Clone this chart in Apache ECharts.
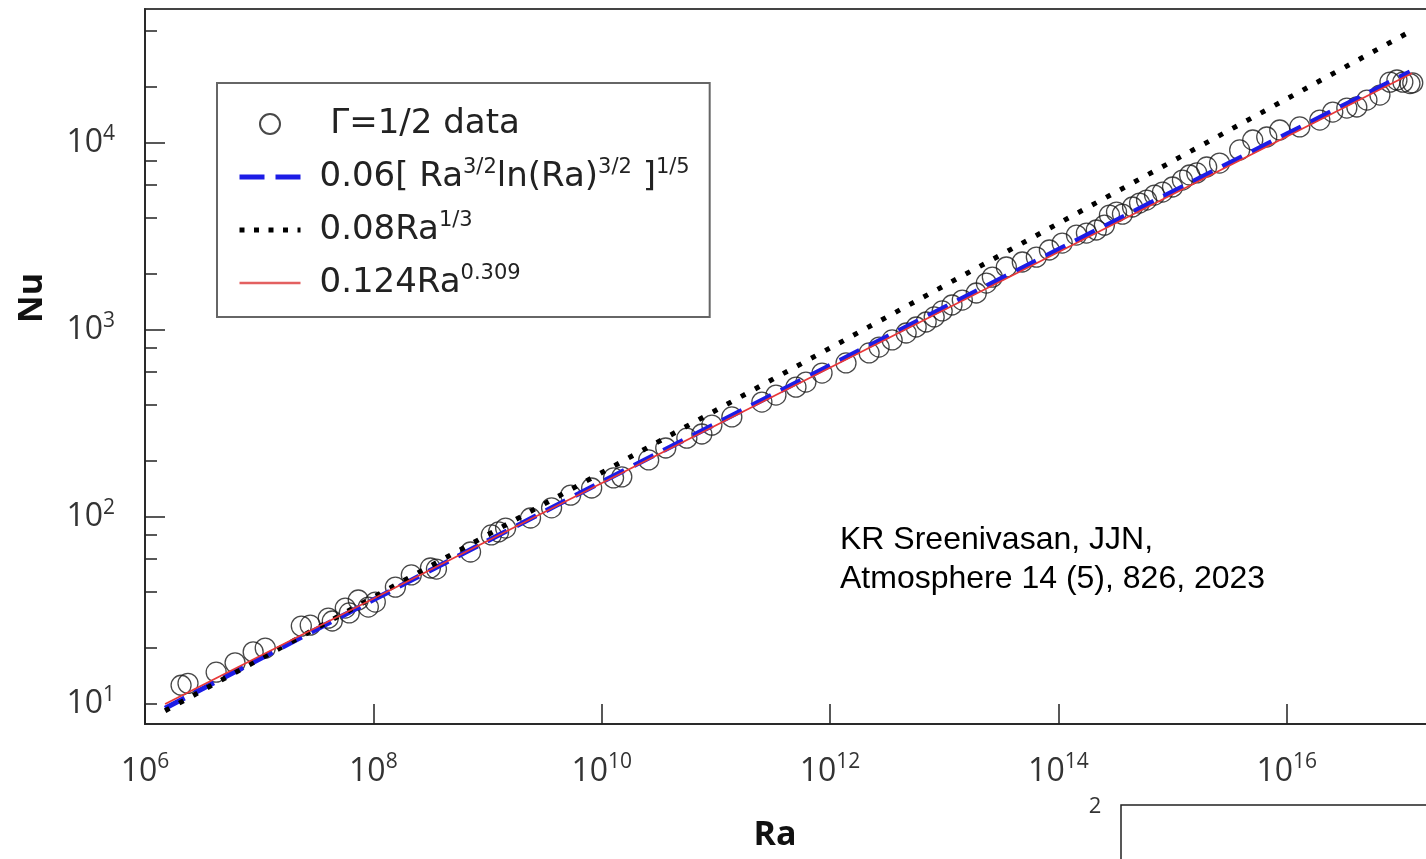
<!DOCTYPE html>
<html><head><meta charset="utf-8">
<script src="https://cdn.jsdelivr.net/npm/echarts@6/dist/echarts.min.js"></script>
<style>html,body{margin:0;padding:0;background:#fff}#c{width:1426px;height:859px}</style>
</head><body><div id="c"></div>
<script>
// ---- data ----
const dataRa = [
  2.07e6, 2.38e6, 4.20e6, 6.15e6, 8.86e6, 1.13e7, 2.34e7, 2.80e7, 4.03e7, 4.37e7,
  5.68e7, 6.15e7, 7.38e7, 9.04e7, 1.04e8, 1.56e8, 2.15e8, 3.16e8, 3.57e8, 7.10e8,
  1.08e9, 1.25e9, 1.44e9, 2.38e9, 3.64e9, 5.35e9, 8.17e9, 1.27e10, 1.50e10, 2.58e10,
  3.64e10, 5.57e10, 7.54e10, 9.23e10, 1.38e11, 2.53e11, 3.36e11, 5.03e11, 6.15e11, 8.51e11,
  1.38e12, 2.20e12, 2.69e12, 3.50e12, 4.64e12, 5.68e12, 6.95e12, 8.17e12, 9.60e12, 1.17e13,
  1.44e13, 1.91e13, 2.34e13, 2.64e13, 3.50e13, 4.83e13, 6.41e13, 8.34e13, 1.08e14, 1.44e14,
  1.76e14, 2.15e14, 2.53e14, 2.80e14, 3.23e14, 3.64e14, 4.46e14, 5.14e14, 5.92e14, 6.95e14,
  8.17e14, 1.00e15, 1.22e15, 1.41e15, 1.63e15, 1.99e15, 2.58e15, 3.87e15, 5.04e15, 6.68e15,
  8.69e15, 1.30e16, 1.95e16, 2.53e16, 3.36e16, 4.11e16, 5.04e16, 6.55e16, 8.02e16, 9.23e16,
  1.04e17, 1.20e17, 1.27e17
];
const dataNu = [
  12.6, 12.9, 14.8, 16.6, 19.0, 19.9, 26.1, 26.4, 28.8, 27.8,
  32.6, 30.7, 36.0, 33.0, 35.1, 42.2, 49.0, 53.4, 52.7, 65.0,
  80.2, 83.2, 87.3, 98.8, 112, 131, 143, 162, 164, 202,
  234, 264, 278, 310, 343, 412, 449, 495, 527, 589,
  667, 754, 811, 885, 964, 1038, 1104, 1175, 1265, 1361,
  1446, 1578, 1784, 1919, 2173, 2311, 2455, 2679, 2919, 3221,
  3302, 3428, 3640, 4121, 4276, 4169, 4550, 4775, 4955, 5272,
  5470, 5821, 6340, 6745, 6918, 7447, 7816, 9183, 10380, 10770,
  11740, 12190, 13270, 14650, 15380, 15590, 16980, 18060, 21180, 21730,
  21180, 20800, 21000
];
const blueRa = [1.5e6, 1e8, 1e10, 1e12, 1e14, 1e16, 1.2e17];
const blueNu = [9.5, 36.1, 154, 646, 2696, 11170, 24010];
const dotRa = [1.5e6, 1.1e17];
const dotNu = [9.2, 38300];
const redRa = [1.5e6, 1.25e17];
const redNu = [10.0, 23600];

const xTickValues = [1e6, 1e8, 1e10, 1e12, 1e14, 1e16];
const yTickValues = [1e1, 1e2, 1e3, 1e4];
const yMinorTickValues = [10, 20, 40, 60, 80, 200, 400, 600, 800, 2000, 4000, 6000, 8000, 20000, 40000];

const seriesNames = ['Γ=1/2 data', '0.06[ Ra3/2ln(Ra)3/2 ]1/5', '0.08Ra1/3', '0.124Ra0.309'];
const legendRich = {
  'Γ=1/2 data': '{t| Γ=1/2 data}',
  '0.06[ Ra3/2ln(Ra)3/2 ]1/5': '{t|0.06[ Ra}{s|3/2}{t|ln(Ra)}{s|3/2}{t| ]}{s|1/5}',
  '0.08Ra1/3': '{t|0.08Ra}{s|1/3}',
  '0.124Ra0.309': '{t|0.124Ra}{s|0.309}'
};
const noteLines = ['KR Sreenivasan, JJN,', 'Atmosphere 14 (5), 826, 2023'];

const zip = (a, b) => a.map((v, i) => [v, b[i]]);
const FONT = 'Open Sans';
const LFONT = 'DejaVu Sans';
const powLabel = v => '{b|10}{s|' + Math.round(Math.log10(v)) + '}';
const tickRich = {
  b: { fontSize: 32, fontFamily: FONT, color: '#333', lineHeight: 40 },
  s: { fontSize: 21, fontFamily: FONT, color: '#333', lineHeight: 22, verticalAlign: 'top' }
};
const hidden = { color: 'rgba(0,0,0,0)', borderColor: 'rgba(0,0,0,0)', borderWidth: 0 };

const chart = echarts.init(document.getElementById('c'), null, { renderer: 'canvas' });
chart.setOption({
  animation: false,
  backgroundColor: '#fff',
  grid: { left: 145, top: 9, width: 1295, height: 715, show: true, borderColor: '#444', borderWidth: 2,
          containLabel: false, outerBoundsMode: 'none' },
  xAxis: {
    type: 'log', logBase: 10, min: 1e6, max: 2.2e17,
    axisLine: { lineStyle: { color: '#222', width: 1.5 } },
    axisTick: { inside: true, length: 20, customValues: xTickValues, lineStyle: { color: '#222', width: 1.5 } },
    axisLabel: { customValues: xTickValues, formatter: powLabel, rich: tickRich, margin: 28 },
    splitLine: { show: false }, minorTick: { show: false }
  },
  yAxis: [{
    type: 'log', logBase: 10, min: 7.82, max: 52100,
    axisLine: { lineStyle: { color: '#222', width: 1.5 } },
    axisTick: { inside: true, length: 20, customValues: [100, 1000, 10000], lineStyle: { color: '#222', width: 1.5 } },
    axisLabel: { customValues: yTickValues, formatter: powLabel, rich: tickRich, margin: 30 },
    splitLine: { show: false }
  }, {
    type: 'log', logBase: 10, min: 7.82, max: 52100, position: 'left',
    axisLine: { show: false },
    axisTick: { inside: true, length: 12, customValues: yMinorTickValues, lineStyle: { color: '#222', width: 1.5 } },
    axisLabel: { show: false },
    splitLine: { show: false }
  }],
  legend: {
    left: 217, top: 83, orient: 'vertical',
    data: [
      { name: seriesNames[0] },
      { name: seriesNames[1], itemStyle: hidden, lineStyle: { color: '#1c1ce6', width: 5, type: [25, 11], cap: 'butt' } },
      { name: seriesNames[2], itemStyle: hidden, lineStyle: { color: '#000', width: 5, type: [5, 9.5], cap: 'butt' } },
      { name: seriesNames[3], itemStyle: hidden, lineStyle: { color: '#e36060', width: 2.5 } }
    ],
    itemWidth: 61, itemHeight: 20, itemGap: 16,
    padding: [24, 20, 17, 20],
    borderColor: '#666', borderWidth: 2, backgroundColor: '#fff',
    formatter: name => legendRich[name],
    textStyle: {
      padding: [0, 0, 0, 14],
      rich: {
        t: { fontSize: 34, fontFamily: LFONT, color: '#222', lineHeight: 40 },
        s: { fontSize: 21, fontFamily: LFONT, color: '#222', lineHeight: 22, verticalAlign: 'top' }
      }
    }
  },
  series: [
    { name: seriesNames[0], type: 'scatter', data: zip(dataRa, dataNu), symbol: 'circle', symbolSize: 20,
      itemStyle: { color: 'rgba(0,0,0,0)', borderColor: '#1a1a1a', borderWidth: 1.3 }, z: 2 },
    { name: seriesNames[1], type: 'line', data: zip(blueRa, blueNu), symbol: 'none',
      lineStyle: { color: '#1c1ce6', width: 5, type: [22, 11] }, itemStyle: { color: '#1c1ce6' }, z: 3 },
    { name: seriesNames[2], type: 'line', data: zip(dotRa, dotNu), symbol: 'none',
      lineStyle: { color: '#000', width: 5, type: [5, 11], cap: 'butt' }, itemStyle: { color: '#000' }, z: 4 },
    { name: seriesNames[3], type: 'line', data: zip(redRa, redNu), symbol: 'none',
      lineStyle: { color: '#e83838', width: 1.8 }, itemStyle: { color: '#e83838' }, z: 5 }
  ],
  graphic: [
    { type: 'text', x: 32, y: 298, rotation: Math.PI / 2,
      style: { text: 'Nu', fontSize: 34, fontWeight: 'bold', fontFamily: FONT, fill: '#111', align: 'center', verticalAlign: 'middle' } },
    { type: 'text', x: 775, y: 835,
      style: { text: 'Ra', fontSize: 34, fontWeight: 'bold', fontFamily: FONT, fill: '#111', align: 'center', verticalAlign: 'middle' } },
    { type: 'text', x: 840, y: 540,
      style: { text: noteLines[0], fontSize: 32, fontFamily: 'Liberation Sans', fill: '#000', align: 'left', verticalAlign: 'middle' } },
    { type: 'text', x: 840, y: 579,
      style: { text: noteLines[1], fontSize: 32, fontFamily: 'Liberation Sans', fill: '#000', align: 'left', verticalAlign: 'middle' } },
    { type: 'text', x: 1095, y: 807,
      style: { text: '2', fontSize: 22, fontFamily: FONT, fill: '#333', align: 'center', verticalAlign: 'middle' } },
    { type: 'polyline', shape: { points: [[1121, 880], [1121, 805], [1440, 805]] },
      style: { stroke: '#222', lineWidth: 1.5, fill: null } }
  ]
});
</script></body></html>
